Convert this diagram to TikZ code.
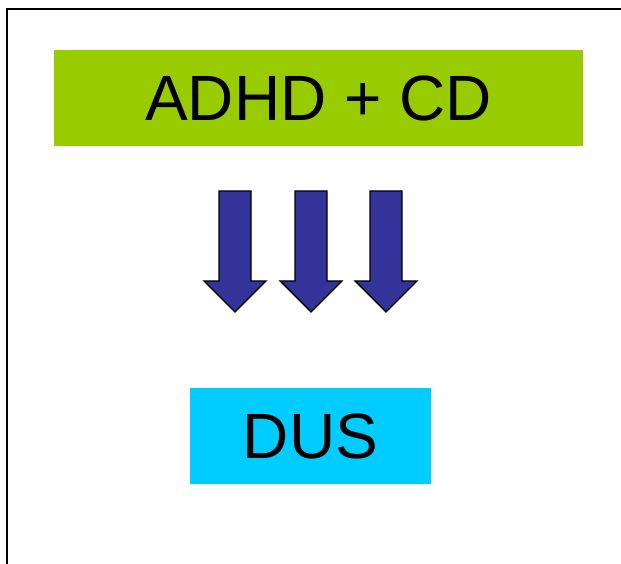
\documentclass[tikz,border=0pt]{standalone}
\usepackage{fontspec}
\setmainfont{Liberation Sans}
\usepackage{tikz}
\definecolor{adhdgreen}{HTML}{99CC00}
\definecolor{duscyan}{HTML}{00CCFF}
\definecolor{arrowblue}{HTML}{333399}
\tikzset{
  box/.style={inner sep=0pt, font=\fontsize{64}{70}\selectfont},
  blockarrow/.style={draw=black, line width=1.4pt, fill=arrowblue, line join=miter}
}
\begin{document}
\begin{tikzpicture}[x=1pt, y=1pt]

  \newcommand\SW{16};   % half shaft
  \newcommand\HW{31};   % half head
  \useasboundingbox (0,0) rectangle (621,564);

  %% frame
  \coordinate (fbot) at (7,0);
  \coordinate (fcorner) at (7,555);
  \coordinate (fright) at (621,555);
  \draw[line width=1.5pt] (fbot) -- (fcorner) -- (fright);

  \node[box, fill=adhdgreen, minimum width=529, minimum height=96] (adhd) at (318.5, 466) {ADHD + CD};
  \node[box, fill=duscyan, minimum width=241, minimum height=96] (dus) at (310.5, 128) {DUS};

  %% three arrows
  \foreach \x/\n in {235/arrA, 311/arrB, 386/arrC}{
    \draw[blockarrow] (\x-\SW, 373) -- (\x+\SW, 373) -- (\x+\SW, 283) -- (\x+\HW, 283)
      -- (\x, 252) coordinate (\n) -- (\x-\HW, 283) -- (\x-\SW, 283) -- cycle;
  }
\end{tikzpicture}
\end{document}
